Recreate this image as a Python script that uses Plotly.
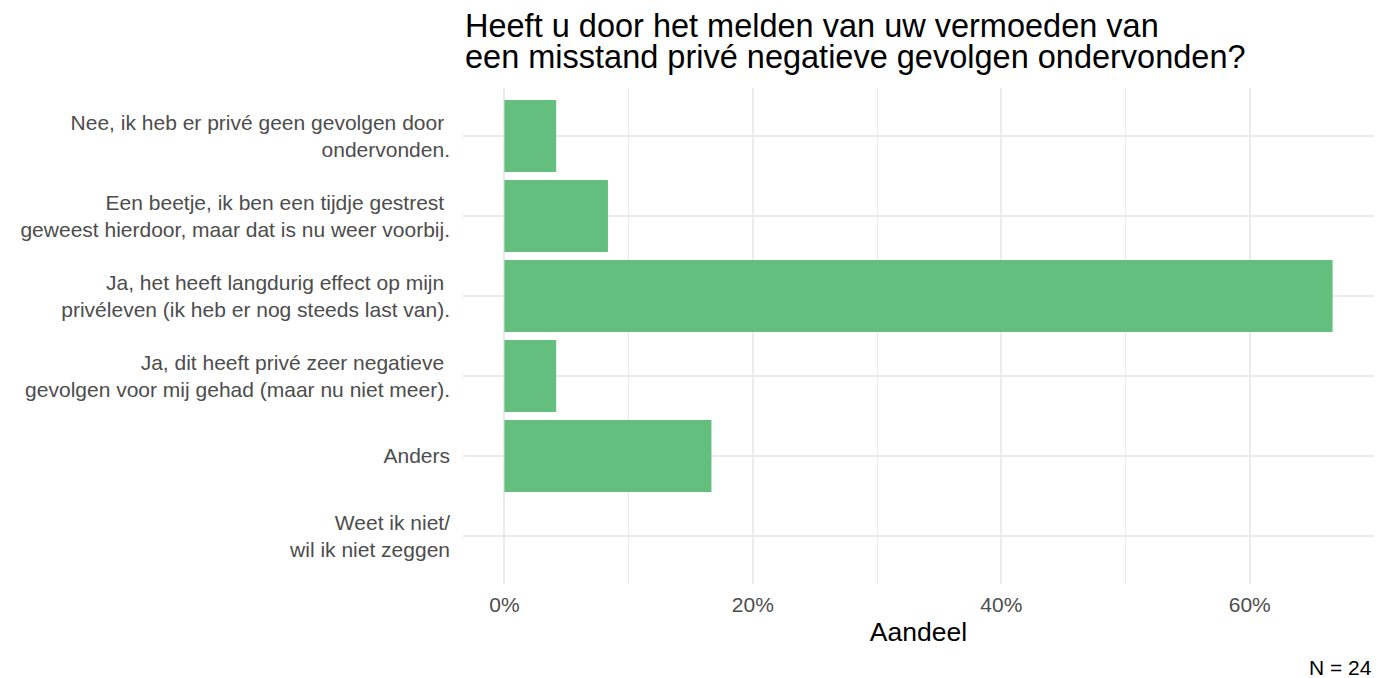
import plotly.graph_objects as go

categories = [
    "Nee, ik heb er privé geen gevolgen door\u00a0<br>ondervonden.",
    "Een beetje, ik ben een tijdje gestrest\u00a0<br>geweest hierdoor, maar dat is nu weer voorbij.",
    "Ja, het heeft langdurig effect op mijn\u00a0<br>privéleven (ik heb er nog steeds last van).",
    "Ja, dit heeft privé zeer negatieve\u00a0<br>gevolgen voor mij gehad (maar nu niet meer).",
    "Anders",
    "Weet ik niet/<br>wil ik niet zeggen",
]
counts = [1, 2, 16, 1, 4, 0]
n_total = 24
shares = [c / n_total * 100 for c in counts]
x_ticks = [0, 20, 40, 60]
x_tick_labels = ["0%", "20%", "40%", "60%"]
x_minor_ticks = [10, 30, 50]
title_lines = [
    "Heeft u door het melden van uw vermoeden van",
    "een misstand privé negatieve gevolgen ondervonden?",
]
x_title = "Aandeel"
caption = "N = 24"

FONT = "Liberation Sans, Arial, sans-serif"
# page body has an 8px default margin; positions below compensate for it
OFF = 8

fig = go.Figure(
    go.Bar(
        x=shares,
        y=categories,
        orientation="h",
        width=0.9,
        marker=dict(color="#64BE7E", line=dict(width=0)),
        hoverinfo="skip",
    )
)

xmax = max(shares)
pad = xmax * 0.05

W, H = 1386, 678
plot_left, plot_right, plot_top, plot_bottom = 463, 1374, 88, 584

fig.update_layout(
    width=W,
    height=H,
    margin=dict(
        l=plot_left - OFF,
        r=W - (plot_right - OFF),
        t=plot_top - OFF,
        b=H - (plot_bottom - OFF),
    ),
    plot_bgcolor="white",
    paper_bgcolor="white",
    font=dict(family=FONT, color="#4D4D4D", size=21),
    showlegend=False,
)

fig.update_xaxes(
    range=[-pad, xmax + pad],
    tickvals=x_ticks,
    ticktext=x_tick_labels,
    showgrid=True,
    gridcolor="#EBEBEB",
    gridwidth=2,
    minor=dict(tickvals=x_minor_ticks, showgrid=True, gridcolor="#EBEBEB", gridwidth=1),
    zeroline=False,
    showline=False,
    ticks="",
    tickfont=dict(size=21, color="#4D4D4D"),
    ticklabelstandoff=6,
    title=dict(text=x_title, font=dict(size=26.5, color="#000000"), standoff=7),
)

fig.update_yaxes(
    categoryorder="array",
    categoryarray=categories,
    range=[len(categories) - 0.4, -0.6],
    showgrid=True,
    gridcolor="#EBEBEB",
    gridwidth=2,
    zeroline=False,
    showline=False,
    ticks="",
    tickfont=dict(size=21, color="#4D4D4D"),
    ticklabelstandoff=12,
)

title_centers = [26, 57]  # screen y of each title line's centre
for line, cy in zip(title_lines, title_centers):
    fig.add_annotation(
        text=line,
        xref="paper", yref="paper",
        x=0, y=1,
        xanchor="left", yanchor="middle",
        yshift=plot_top - cy,
        showarrow=False,
        font=dict(size=32.5, color="#000000", family=FONT),
    )

fig.add_annotation(
    text=caption,
    xref="paper", yref="paper",
    x=1, y=0,
    xanchor="right", yanchor="middle",
    yshift=plot_bottom - 667,
    showarrow=False,
    font=dict(size=21, color="#000000", family=FONT),
)

fig.write_html("out.html")
